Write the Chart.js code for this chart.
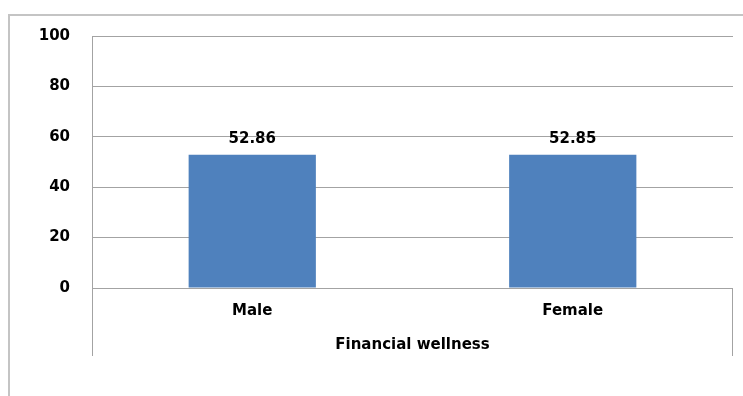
<!DOCTYPE html>
<html>
<head>
<meta charset="utf-8">
<script src="https://cdn.jsdelivr.net/npm/chart.js@4/dist/chart.umd.min.js"></script>
<style>
  body { margin: 0; background: #fff; }
  #wrap { width: 743px; height: 396px; position: relative; }
</style>
</head>
<body>
<div id="wrap"><canvas id="myChart" width="743" height="396"></canvas></div>
<script>
// donnees du graphique
const categories = ['Male', 'Female'];
const valeurs = [52.86, 52.85];
const axeTitre = 'Financial wellness';
const yMin = 0, yMax = 100, yPas = 20;

const gris = '#a3a3a3';
const police = { family: 'DejaVu Sans', size: 15, weight: 'bold' };

// cadre exterieur + lignes sous l'axe
const cadrePlugin = {
    id: 'cadre',
    beforeDraw(chart) {
        const ctx = chart.ctx;
        ctx.save();
        ctx.strokeStyle = '#c4c4c4';
        ctx.lineWidth = 2;
        ctx.strokeRect(9, 15, 900, 600);
        ctx.restore();
    },
    afterDraw(chart) {
        const ctx = chart.ctx;
        const a = chart.chartArea;
        ctx.save();
        ctx.strokeStyle = gris;
        ctx.lineWidth = 1;
        ctx.beginPath();
        ctx.moveTo(Math.round(a.left) + 0.5, a.bottom);
        ctx.lineTo(Math.round(a.left) + 0.5, a.bottom + 68);
        ctx.moveTo(Math.round(a.right) - 0.5, a.bottom);
        ctx.lineTo(Math.round(a.right) - 0.5, a.bottom + 68);
        ctx.stroke();
        ctx.restore();
    }
};

// etiquettes de valeurs au-dessus des barres
const etiquettesPlugin = {
    id: 'etiquettes',
    afterDatasetsDraw(chart) {
        const ctx = chart.ctx;
        const meta = chart.getDatasetMeta(0);
        ctx.save();
        ctx.font = 'bold 15px "DejaVu Sans"';
        ctx.fillStyle = '#000';
        ctx.textAlign = 'center';
        ctx.textBaseline = 'middle';
        meta.data.forEach((bar, i) => {
            ctx.fillText(valeurs[i].toFixed(2), bar.x, bar.y - 16);
        });
        ctx.restore();
    }
};

const ctx = document.getElementById('myChart').getContext('2d');
const myChart = new Chart(ctx, {
    type: 'bar',
    data: {
        labels: categories,
        datasets: [{
            data: valeurs,
            backgroundColor: '#4f81bd',
            borderColor: '#5a8ac4',
            borderWidth: 0,
            categoryPercentage: 1,
            barPercentage: 0.397
        }]
    },
    options: {
        responsive: false,
        animation: false,
        layout: { padding: { left: 0, right: 10, top: 36, bottom: 0 } },
        plugins: {
            legend: { display: false },
            tooltip: { enabled: false }
        },
        scales: {
            x: {
                grid: { display: false, drawTicks: false },
                border: { display: false },
                ticks: { color: '#000', font: police, padding: 14 },
                title: {
                    display: true,
                    text: axeTitre,
                    color: '#000',
                    font: police,
                    padding: { top: 42, bottom: 42 }
                },
                afterFit(s) { s.height = 108; }
            },
            y: {
                min: yMin,
                max: yMax,
                ticks: { stepSize: yPas, color: '#000', font: police, padding: 22 },
                grid: { color: gris, drawTicks: false },
                border: { display: true, color: gris },
                afterFit(s) { s.width = 92; }
            }
        }
    },
    plugins: [cadrePlugin, etiquettesPlugin]
});
</script>
</body>
</html>
